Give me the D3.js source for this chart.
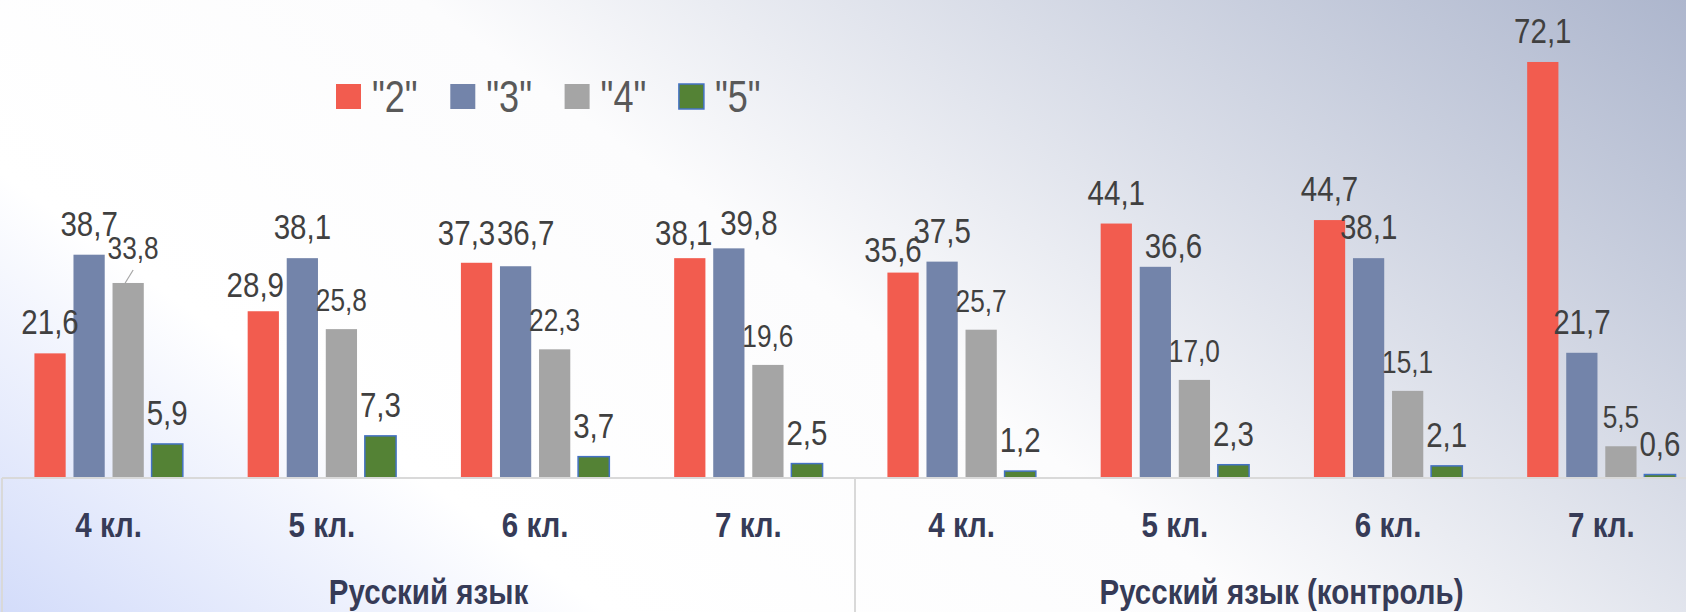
<!DOCTYPE html>
<html>
<head>
<meta charset="utf-8">
<script src="https://cdn.jsdelivr.net/npm/d3@7"></script>
<style>
  html, body { margin: 0; padding: 0; background: #fff; }
  svg { display: block; }
</style>
</head>
<body>
<div class="canvas"></div>
<script>
// data
const groups = ['Русский язык', 'Русский язык (контроль)'];
const grades = ['4 кл.', '5 кл.', '6 кл.', '7 кл.'];
const seriesNames = ['"2"', '"3"', '"4"', '"5"'];
const grade2 = [21.6, 28.9, 37.3, 38.1, 35.6, 44.1, 44.7, 72.1];
const grade3 = [38.7, 38.1, 36.7, 39.8, 37.5, 36.6, 38.1, 21.7];
const grade4 = [33.8, 25.8, 22.3, 19.6, 25.7, 17.0, 15.1, 5.5];
const grade5 = [5.9, 7.3, 3.7, 2.5, 1.2, 2.3, 2.1, 0.6];

const dims = {width: 1686, height: 612};
const base = 478;
const colours = ['#F25C4F', '#7384AA', '#A5A5A5', '#548235'];
const font = '"Liberation Sans", Arial, sans-serif';
const narrow = 0.82; // the original uses a narrow face

// labels moved by hand in the original chart
const nudges = {
  '2-0': [5, -6], '0-1': [-8, 5], '0-2': [-10, 1], '1-2': [10, -2],
  '0-3': [-6, 6], '1-3': [20, 6], '0-4': [-10, 8], '1-5': [18, 10]
};

const cats = [];
groups.forEach(g => grades.forEach(c => cats.push({group: g, grade: c, key: g + '|' + c})));
const allSeries = [grade2, grade3, grade4, grade5];

const svg = d3.select('.canvas')
    .append('svg')
    .attr('width', dims.width)
    .attr('height', dims.height);

const place = (x, y) => `translate(${x},${y}) scale(${narrow},1)`;

// background gradient
const defs = svg.append('defs');
const grad = defs.append('linearGradient')
    .attr('id', 'bg')
    .attr('gradientUnits', 'userSpaceOnUse')
    .attr('x1', -290.9).attr('y1', 401.5)
    .attr('x2', 580.5).attr('y2', -801.1);
[[0, '#D3DCFA'], [0.24, '#FFFFFF'], [0.5, '#FCFCFD'], [1, '#ADB6CD']].forEach(s => {
    grad.append('stop').attr('offset', s[0]).attr('stop-color', s[1]);
});
svg.append('rect')
    .attr('width', dims.width)
    .attr('height', dims.height)
    .attr('fill', 'url(#bg)');

const x0 = d3.scaleBand()
    .domain(cats.map(d => d.key))
    .range([2, 1708]);

const x1 = d3.scaleBand()
    .domain(d3.range(4))
    .range([0, x0.bandwidth()])
    .paddingInner(0.2)
    .paddingOuter(0.83);

const y = d3.scaleLinear()
    .domain([0, 80])
    .range([base, base - 80 * 5.77]);

const fmt = d3.formatLocale({decimal: ',', thousands: ' ', grouping: [3], currency: ['', '']}).format('.1f');

// bars
const graph = svg.append('g');
allSeries.forEach((vals, s) => {
    graph.selectAll('.bar' + s)
        .data(vals)
        .enter()
        .append('rect')
        .attr('class', 'bar' + s)
        .attr('x', (d, i) => x0(cats[i].key) + x1(s))
        .attr('y', d => y(d))
        .attr('width', x1.bandwidth())
        .attr('height', d => base - y(d))
        .attr('fill', colours[s])
        .attr('stroke', s === 3 ? '#4472C4' : 'none')
        .attr('stroke-width', 1.5);
});

// value labels
allSeries.forEach((vals, s) => {
    vals.forEach((d, i) => {
        const n = nudges[s + '-' + i] || [0, 0];
        const cx = x0(cats[i].key) + x1(s) + x1.bandwidth() / 2;
        const lx = cx + n[0];
        const ly = y(d) - (s === 2 ? 18 : 19) + n[1];
        graph.append('text')
            .attr('transform', place(lx, ly))
            .attr('text-anchor', 'middle')
            .attr('font-family', font)
            .attr('font-size', s === 2 ? 32 : 36)
            .attr('fill', '#404040')
            .text(fmt(d));
        if (s === 2 && i === 0) {
            graph.append('line')
                .attr('x1', lx).attr('y1', ly + 11)
                .attr('x2', cx - 3).attr('y2', y(d))
                .attr('stroke', '#A6A6A6')
                .attr('stroke-width', 1.2);
        }
    });
});

// category table
const table = svg.append('g')
    .attr('stroke', '#D9D9D9')
    .attr('stroke-width', 2);
table.append('line').attr('x1', 2).attr('x2', dims.width).attr('y1', base).attr('y2', base);
table.append('line').attr('x1', 2).attr('x2', 2).attr('y1', base).attr('y2', dims.height);
table.append('line')
    .attr('x1', x0(cats[4].key)).attr('x2', x0(cats[4].key))
    .attr('y1', base).attr('y2', dims.height);

svg.append('g').selectAll('text')
    .data(cats)
    .enter()
    .append('text')
    .attr('transform', d => place(x0(d.key) + x0.bandwidth() / 2, 537))
    .attr('text-anchor', 'middle')
    .attr('font-family', font)
    .attr('font-weight', 'bold')
    .attr('font-size', 36)
    .attr('fill', '#363B57')
    .text(d => d.grade);

svg.append('g').selectAll('text')
    .data(groups)
    .enter()
    .append('text')
    .attr('transform', (d, i) => place(x0(cats[i * 4].key) + 2 * x0.bandwidth(), 604))
    .attr('text-anchor', 'middle')
    .attr('font-family', font)
    .attr('font-weight', 'bold')
    .attr('font-size', 36)
    .attr('fill', '#363B57')
    .text(d => d);

// legend
const legend = svg.append('g')
    .attr('transform', 'translate(336, 84)');
const item = legend.selectAll('g')
    .data(seriesNames)
    .enter()
    .append('g')
    .attr('transform', (d, i) => `translate(${i * 114.3}, 0)`);
item.append('rect')
    .attr('width', 25)
    .attr('height', 25)
    .attr('fill', (d, i) => colours[i])
    .attr('stroke', (d, i) => i === 3 ? '#4472C4' : 'none')
    .attr('stroke-width', 1.5);
item.append('text')
    .attr('transform', place(36, 28))
    .attr('font-family', font)
    .attr('font-size', 44)
    .attr('fill', '#595959')
    .text(d => d);
</script>
</body>
</html>
